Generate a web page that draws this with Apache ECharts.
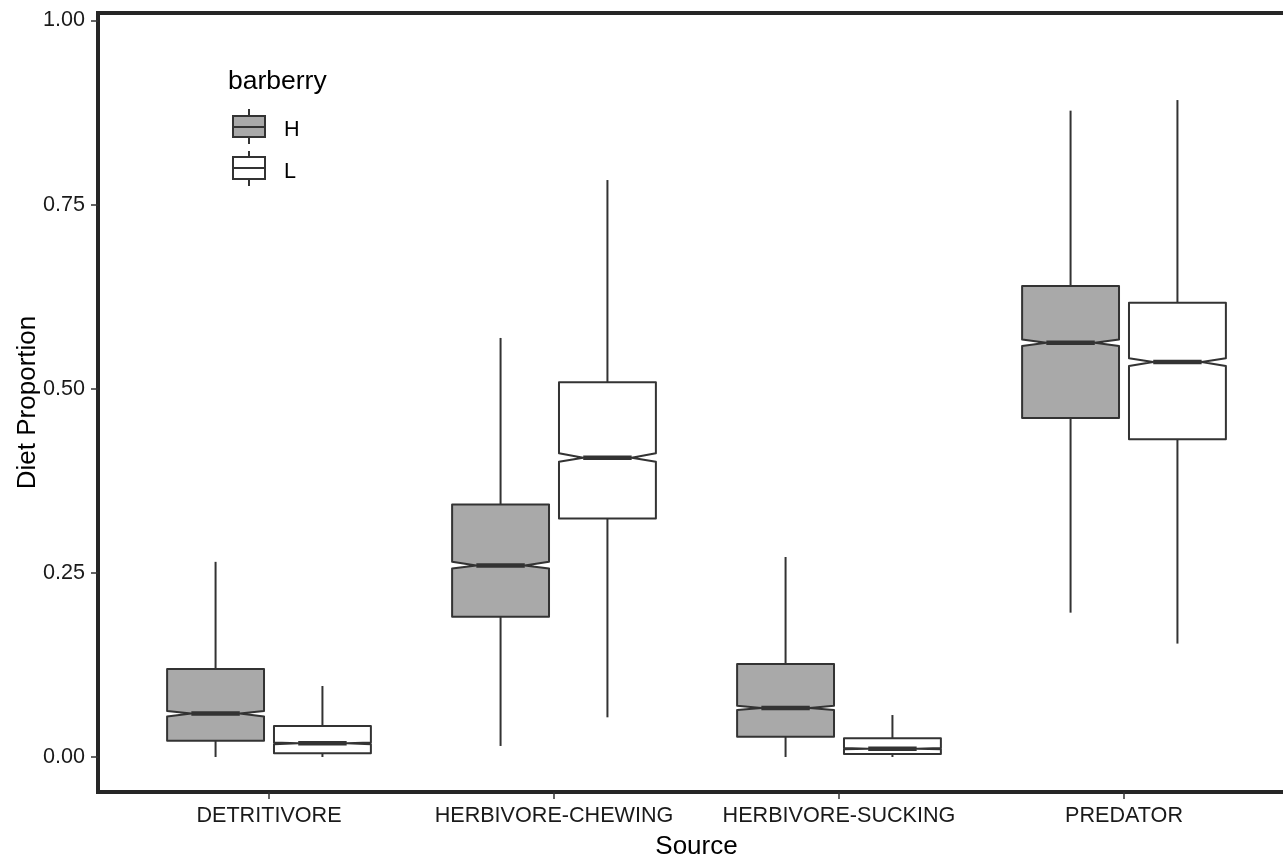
<!DOCTYPE html>
<html>
<head>
<meta charset="utf-8">
<script src="https://cdn.jsdelivr.net/npm/echarts@6/dist/echarts.min.js"></script>
<style>
html,body{margin:0;padding:0;background:#fff;}
#chart{width:1283px;height:854px;}
</style>
</head>
<body>
<div id="chart"></div>
<script>
// ---- data ----
const categories = ['DETRITIVORE', 'HERBIVORE-CHEWING', 'HERBIVORE-SUCKING', 'PREDATOR'];
const groups = ['H', 'L'];
// each row: [whiskerLow, q1, notchLow, median, notchHigh, q3, whiskerHigh]
const statsH = [
  [0.000, 0.022, 0.055, 0.059, 0.0625, 0.1195, 0.265],
  [0.015, 0.1905, 0.256, 0.260, 0.265, 0.343, 0.569],
  [0.000, 0.0276, 0.0638, 0.0665, 0.0697, 0.1263, 0.2716],
  [0.196, 0.4603, 0.558, 0.5626, 0.567, 0.6395, 0.8776]
];
const statsL = [
  [0.000, 0.005, 0.0175, 0.0186, 0.0197, 0.042, 0.0964],
  [0.0539, 0.324, 0.401, 0.4064, 0.4123, 0.5088, 0.7834],
  [0.000, 0.004, 0.0105, 0.0113, 0.0121, 0.0254, 0.057],
  [0.154, 0.4313, 0.531, 0.5363, 0.5413, 0.6169, 0.892]
];
const yTicks = [0, 0.25, 0.5, 0.75, 1.0];
const fills = {H: '#a9a9a9', L: '#ffffff'};

const FONT = "'Liberation Sans', Arial, sans-serif";
const LINE = '#333333';
const dodge = 0.1875;
const boxW = 0.34;

function buildData(stats, offset) {
  return stats.map((s, i) => [i + 1 + offset].concat(s));
}

function renderBox(fill) {
  return function (params, api) {
    const x = api.value(0);
    const lo = api.coord([x, api.value(1)]);
    const q1 = api.coord([x, api.value(2)]);
    const nl = api.coord([x, api.value(3)]);
    const md = api.coord([x, api.value(4)]);
    const nh = api.coord([x, api.value(5)]);
    const q3 = api.coord([x, api.value(6)]);
    const hi = api.coord([x, api.value(7)]);
    const w = api.size([boxW, 0])[0];
    const cx = md[0];
    const L = cx - w / 2, R = cx + w / 2, nw = w / 4;
    const lineStyle = {stroke: LINE, lineWidth: 2, fill: null};
    return {
      type: 'group',
      children: [
        {type: 'line', shape: {x1: cx, y1: hi[1], x2: cx, y2: q3[1]}, style: lineStyle},
        {type: 'line', shape: {x1: cx, y1: q1[1], x2: cx, y2: lo[1]}, style: lineStyle},
        {type: 'polygon', shape: {points: [
          [L, q3[1]], [R, q3[1]], [R, nh[1]], [R - nw, md[1]], [R, nl[1]],
          [R, q1[1]], [L, q1[1]], [L, nl[1]], [L + nw, md[1]], [L, nh[1]]
        ]}, style: {fill: fill, stroke: LINE, lineWidth: 2, lineJoin: 'round'}},
        {type: 'line', shape: {x1: L + nw, y1: md[1], x2: R - nw, y2: md[1]},
          style: {stroke: LINE, lineWidth: 4.5}}
      ]
    };
  };
}

const chart = echarts.init(document.getElementById('chart'));
chart.setOption({
  animation: false,
  backgroundColor: '#ffffff',
  grid: {left: 98, right: -12, top: 13, bottom: 62, show: true, containLabel: false,
    outerBoundsMode: 'none',
    borderColor: '#262626', borderWidth: 4, backgroundColor: 'transparent'},
  xAxis: {
    type: 'value', min: 0.4, max: 4.6,
    name: 'Source', nameLocation: 'middle', nameGap: 55, nameMoveOverlap: false,
    nameTextStyle: {fontFamily: FONT, fontSize: 26, color: '#000', verticalAlign: 'middle'},
    axisLine: {show: false, onZero: false},
    splitLine: {show: false},
    axisTick: {show: true, length: 7, customValues: [1, 2, 3, 4], lineStyle: {color: LINE, width: 1.5}},
    axisLabel: {show: true, customValues: [1, 2, 3, 4], margin: 13,
      formatter: v => categories[Math.round(v) - 1] || '',
      fontFamily: FONT, fontSize: 21.6, color: '#1a1a1a'}
  },
  yAxis: {
    type: 'value', min: -0.0475, max: 1.0102,
    name: 'Diet Proportion', nameLocation: 'middle', nameGap: 70, nameRotate: 90,
    nameMoveOverlap: false,
    nameTextStyle: {fontFamily: FONT, fontSize: 26, color: '#000', verticalAlign: 'middle'},
    axisLine: {show: false, onZero: false},
    splitLine: {show: false},
    axisTick: {show: true, length: 7, customValues: yTicks, lineStyle: {color: LINE, width: 1.5}},
    axisLabel: {show: true, customValues: yTicks, margin: 13,
      formatter: v => v.toFixed(2),
      fontFamily: FONT, fontSize: 21.6, color: '#1a1a1a'}
  },
  series: [
    {type: 'custom', name: groups[0], data: buildData(statsH, -dodge),
      renderItem: renderBox(fills.H), encode: {x: 0, y: [1, 2, 3, 4, 5, 6, 7]}, clip: false},
    {type: 'custom', name: groups[1], data: buildData(statsL, dodge),
      renderItem: renderBox(fills.L), encode: {x: 0, y: [1, 2, 3, 4, 5, 6, 7]}, clip: false}
  ],
  graphic: [
    {type: 'text', left: 228, top: 68, style: {text: 'barberry', font: '26.5px ' + FONT, fill: '#000'}},
    // H key
    {type: 'line', shape: {x1: 249, y1: 109, x2: 249, y2: 144}, style: {stroke: LINE, lineWidth: 2}},
    {type: 'rect', shape: {x: 233, y: 116, width: 32, height: 21}, style: {fill: fills.H, stroke: LINE, lineWidth: 2}},
    {type: 'line', shape: {x1: 233, y1: 127, x2: 265, y2: 127}, style: {stroke: LINE, lineWidth: 2}},
    {type: 'text', left: 284, top: 119, style: {text: groups[0], font: '21.6px ' + FONT, fill: '#000'}},
    // L key
    {type: 'line', shape: {x1: 249, y1: 151, x2: 249, y2: 186}, style: {stroke: LINE, lineWidth: 2}},
    {type: 'rect', shape: {x: 233, y: 157, width: 32, height: 22}, style: {fill: fills.L, stroke: LINE, lineWidth: 2}},
    {type: 'line', shape: {x1: 233, y1: 168, x2: 265, y2: 168}, style: {stroke: LINE, lineWidth: 2}},
    {type: 'text', left: 284, top: 161, style: {text: groups[1], font: '21.6px ' + FONT, fill: '#000'}}
  ]
});
</script>
</body>
</html>
